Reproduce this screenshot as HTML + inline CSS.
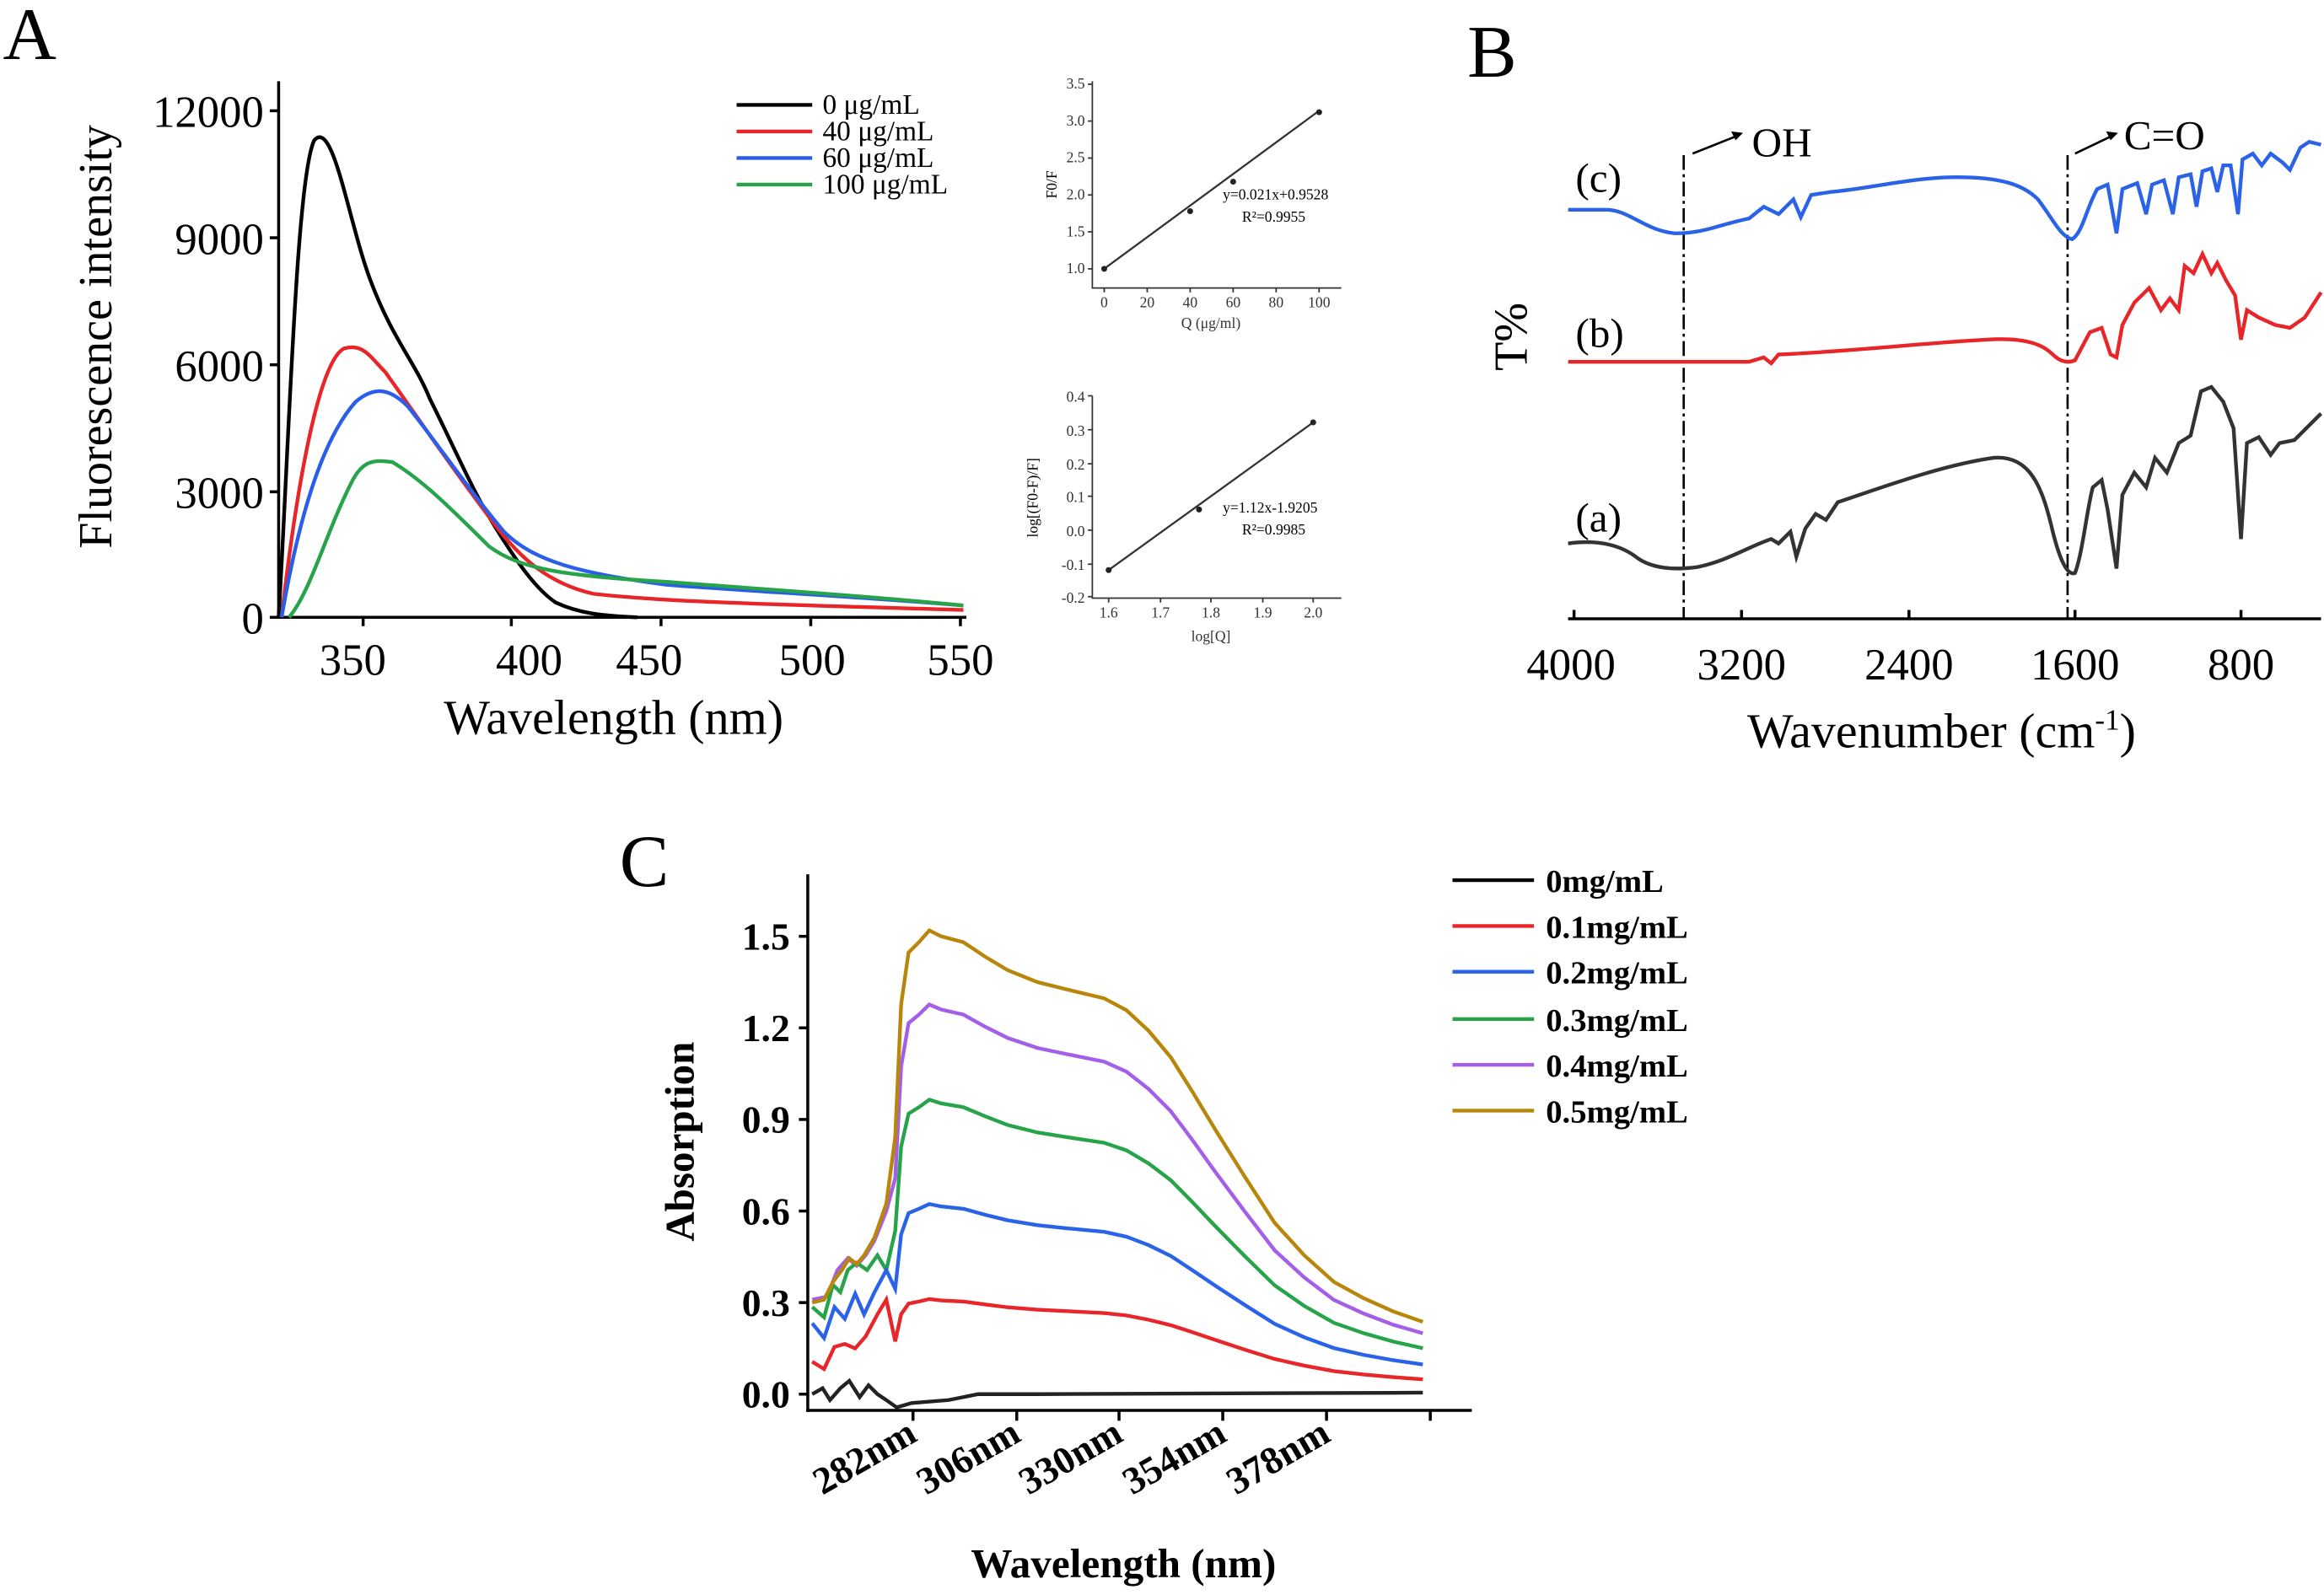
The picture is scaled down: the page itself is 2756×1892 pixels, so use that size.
<!DOCTYPE html>
<html><head><meta charset="utf-8"><style>
html,body{margin:0;padding:0;background:#fff}
svg{display:block}
text{font-family:"Liberation Serif",serif}
</style></head><body>
<svg id="s" width="2756" height="1892" viewBox="0 0 1568 1080" preserveAspectRatio="none">
<rect width="1568" height="1080" fill="#fff"/>
<!-- Panel A -->
<text x="2" y="40" font-size="50">A</text>
<g stroke="#000" stroke-width="2" fill="none">
<line x1="188" y1="55" x2="188" y2="419"/><line x1="187" y1="418" x2="652" y2="418"/>
<line x1="182" y1="75" x2="188" y2="75"/><line x1="182" y1="161" x2="188" y2="161"/><line x1="182" y1="247" x2="188" y2="247"/><line x1="182" y1="333" x2="188" y2="333"/><line x1="182" y1="418" x2="188" y2="418"/>
<line x1="245" y1="418" x2="245" y2="424"/><line x1="345" y1="418" x2="345" y2="424"/><line x1="446" y1="418" x2="446" y2="424"/><line x1="547" y1="418" x2="547" y2="424"/><line x1="648" y1="418" x2="648" y2="424"/>
</g>
<g font-size="30" text-anchor="end"><text x="178" y="86">12000</text><text x="178" y="172">9000</text><text x="178" y="258">6000</text><text x="178" y="344">3000</text><text x="178" y="429">0</text></g>
<g font-size="30" text-anchor="middle"><text x="238" y="457">350</text><text x="357" y="457">400</text><text x="438" y="457">450</text><text x="548" y="457">500</text><text x="648" y="457">550</text></g>
<text x="414" y="497" font-size="33" text-anchor="middle">Wavelength (nm)</text>
<text transform="translate(75,228) rotate(-90)" font-size="32" text-anchor="middle">Fluorescence intensity</text>
<g fill="none" stroke-width="2.5">
<path stroke="#000" d="M188,418 C195,300 200,120 212,95 C225,80 235,150 250,190 C265,230 280,245 290,270 C305,300 318,330 330,350 C345,375 360,398 375,408 C390,415 405,417 430,418"/>
<path stroke="#e8262a" d="M190,418 C200,330 215,245 232,236 C245,232 250,242 260,252 C280,280 300,310 330,350 C350,378 370,395 400,402 C450,408 550,410 650,413"/>
<path stroke="#2a5ee8" d="M190,418 C200,360 215,300 240,272 C252,262 262,262 275,275 C295,300 315,330 340,360 C360,380 390,388 450,396 C500,400 580,404 650,410"/>
<path stroke="#27a44a" d="M195,418 C210,400 220,360 238,325 C245,312 252,311 265,313 C285,325 305,345 330,370 C350,385 380,390 450,394 C500,398 580,403 650,410"/>
</g>
<g stroke-width="2.5"><line x1="497" y1="71" x2="548" y2="71" stroke="#000"/><line x1="497" y1="89" x2="548" y2="89" stroke="#e8262a"/><line x1="497" y1="107" x2="548" y2="107" stroke="#2a5ee8"/><line x1="497" y1="125" x2="548" y2="125" stroke="#27a44a"/></g>
<g font-size="19"><text x="555" y="77">0 μg/mL</text><text x="555" y="95">40 μg/mL</text><text x="555" y="113">60 μg/mL</text><text x="555" y="131">100 μg/mL</text></g>
<!-- insets -->
<g stroke="#333" stroke-width="1" fill="none"><path d="M737,55 V195 H905"/><path d="M737,268 V405 H905"/>
<path d="M737,57h-3M737,82h-3M737,107h-3M737,132h-3M737,157h-3M737,182h-3M745,195v3M774,195v3M803,195v3M832,195v3M861,195v3M890,195v3"/>
<path d="M737,268h-3M737,291h-3M737,314h-3M737,336h-3M737,359h-3M737,382h-3M737,404h-3M748,405v3M783,405v3M817,405v3M852,405v3M886,405v3"/></g>
<g font-size="10" fill="#333" text-anchor="end"><text x="732" y="60">3.5</text><text x="732" y="85">3.0</text><text x="732" y="110">2.5</text><text x="732" y="135">2.0</text><text x="732" y="160">1.5</text><text x="732" y="185">1.0</text>
<text x="732" y="272">0.4</text><text x="732" y="295">0.3</text><text x="732" y="318">0.2</text><text x="732" y="340">0.1</text><text x="732" y="363">0.0</text><text x="732" y="386">-0.1</text><text x="732" y="408">-0.2</text></g>
<g font-size="10" fill="#333" text-anchor="middle"><text x="745" y="208">0</text><text x="774" y="208">20</text><text x="803" y="208">40</text><text x="832" y="208">60</text><text x="861" y="208">80</text><text x="890" y="208">100</text><text x="817" y="222">Q (μg/ml)</text>
<text x="748" y="418">1.6</text><text x="783" y="418">1.7</text><text x="817" y="418">1.8</text><text x="852" y="418">1.9</text><text x="886" y="418">2.0</text><text x="817" y="434">log[Q]</text></g>
<text transform="translate(713,125) rotate(-90)" font-size="10" text-anchor="middle">F0/F</text>
<text transform="translate(700,337) rotate(-90)" font-size="10" text-anchor="middle">log[(F0-F)/F]</text>
<line x1="745" y1="182" x2="890" y2="75" stroke="#333" stroke-width="1.3"/>
<line x1="748" y1="386" x2="886" y2="286" stroke="#333" stroke-width="1.3"/>
<g fill="#222"><circle cx="745" cy="182" r="2"/><circle cx="803" cy="143" r="2"/><circle cx="832" cy="123" r="2"/><circle cx="890" cy="76" r="2"/>
<circle cx="748" cy="386" r="2"/><circle cx="809" cy="345" r="2"/><circle cx="886" cy="286" r="2"/></g>
<g font-size="10"><text x="825" y="135">y=0.021x+0.9528</text><text x="838" y="150">R²=0.9955</text><text x="825" y="347">y=1.12x-1.9205</text><text x="838" y="362">R²=0.9985</text></g>
<!-- Panel B -->
<text x="990" y="52" font-size="50">B</text>
<g stroke="#000" stroke-width="2" fill="none"><line x1="1058" y1="419" x2="1566" y2="419"/>
<line x1="1062" y1="419" x2="1062" y2="413"/><line x1="1175" y1="419" x2="1175" y2="413"/><line x1="1288" y1="419" x2="1288" y2="413"/><line x1="1400" y1="419" x2="1400" y2="413"/><line x1="1512" y1="419" x2="1512" y2="413"/></g>
<g font-size="30" text-anchor="middle"><text x="1060" y="460">4000</text><text x="1175" y="460">3200</text><text x="1288" y="460">2400</text><text x="1400" y="460">1600</text><text x="1512" y="460">800</text></g>
<text x="1310" y="506" font-size="33" text-anchor="middle">Wavenumber (cm<tspan font-size="20" dy="-12">-1</tspan><tspan dy="12">)</tspan></text>
<text transform="translate(1030,228) rotate(-90)" font-size="32" text-anchor="middle">T%</text>
<g stroke="#000" stroke-width="1.5" stroke-dasharray="10,3,2,3"><line x1="1136" y1="105" x2="1136" y2="419"/><line x1="1395" y1="105" x2="1395" y2="419"/></g>
<g stroke="#000" stroke-width="1.5"><line x1="1142" y1="104" x2="1172" y2="92"/><line x1="1400" y1="104" x2="1425" y2="92"/></g>
<path d="M1176,90 l-8,-1 l3,6z M1429,90 l-8,-1 l3,6z"/>
<text x="1182" y="106" font-size="28">OH</text><text x="1433" y="101" font-size="28">C=O</text>
<g font-size="28"><text x="1063" y="130">(c)</text><text x="1063" y="235">(b)</text><text x="1063" y="360">(a)</text></g>
<g fill="none" stroke-width="2.5">
<path stroke="#2a63e8" d="M1058,142 H1085 C1100,143 1110,156 1130,158 C1150,158 1160,152 1180,148 L1190,140 L1200,145 L1210,135 L1215,147 L1222,132 L1235,130 C1260,128 1290,120 1320,120 C1350,120 1365,125 1375,135 C1385,148 1390,160 1398,162 C1405,158 1408,140 1415,128 L1422,125 L1428,158 L1432,128 L1442,124 L1448,145 L1452,125 L1460,122 L1466,145 L1470,120 L1478,118 L1482,140 L1486,116 L1492,114 L1496,130 L1500,112 L1505,112 L1510,145 L1513,108 L1520,104 L1526,112 L1532,104 L1540,110 L1545,115 L1552,100 L1558,96 L1566,98"/>
<path stroke="#e8262a" d="M1058,245 H1180 L1190,242 L1195,246 L1200,240 C1250,238 1300,232 1340,230 C1370,228 1380,235 1385,240 C1390,245 1395,246 1400,244 L1410,225 L1418,222 L1424,240 L1428,242 L1432,220 L1440,205 L1450,195 L1458,210 L1464,202 L1470,210 L1474,180 L1480,185 L1486,172 L1492,185 L1496,178 L1502,190 L1508,200 L1512,230 L1516,210 L1524,215 L1535,220 L1545,222 L1555,215 L1566,198"/>
<path stroke="#333" d="M1058,368 C1080,365 1095,370 1105,378 C1115,385 1130,386 1145,384 C1165,380 1180,370 1195,365 L1200,368 L1208,360 L1212,377 L1218,358 L1225,348 L1232,352 L1240,340 C1270,330 1310,315 1345,310 C1370,308 1378,330 1385,360 C1390,380 1395,390 1400,388 C1405,375 1408,345 1412,330 L1418,325 L1422,345 L1428,385 L1432,335 L1440,320 L1448,330 L1454,310 L1462,320 L1470,300 L1478,295 L1485,265 L1492,262 L1500,272 L1507,290 L1512,365 L1516,300 L1524,296 L1532,308 L1538,300 L1548,298 L1556,290 L1566,280"/>
</g>
<!-- Panel C -->
<text x="418" y="600" font-size="50">C</text>
<g stroke="#000" stroke-width="2" fill="none"><line x1="545" y1="592" x2="545" y2="956"/><line x1="544" y1="955" x2="993" y2="955"/>
<line x1="539" y1="944" x2="545" y2="944"/><line x1="539" y1="882" x2="545" y2="882"/><line x1="539" y1="820" x2="545" y2="820"/><line x1="539" y1="758" x2="545" y2="758"/><line x1="539" y1="696" x2="545" y2="696"/><line x1="539" y1="634" x2="545" y2="634"/>
<line x1="616" y1="955" x2="616" y2="962"/><line x1="686" y1="955" x2="686" y2="962"/><line x1="755" y1="955" x2="755" y2="962"/><line x1="825" y1="955" x2="825" y2="962"/><line x1="895" y1="955" x2="895" y2="962"/><line x1="965" y1="955" x2="965" y2="962"/></g>
<g font-size="26" font-weight="bold" text-anchor="end"><text x="533" y="953">0.0</text><text x="533" y="891">0.3</text><text x="533" y="829">0.6</text><text x="533" y="767">0.9</text><text x="533" y="705">1.2</text><text x="533" y="643">1.5</text></g>
<g font-size="26" font-weight="bold" text-anchor="end">
<text transform="translate(620,975) rotate(-30)">282nm</text><text transform="translate(690,975) rotate(-30)">306nm</text><text transform="translate(759,975) rotate(-30)">330nm</text><text transform="translate(829,975) rotate(-30)">354nm</text><text transform="translate(899,975) rotate(-30)">378nm</text></g>
<text x="758" y="1068" font-size="28" font-weight="bold" text-anchor="middle">Wavelength (nm)</text>
<text transform="translate(468,773) rotate(-90)" font-size="28" font-weight="bold" text-anchor="middle">Absorption</text>
<g id="cc" fill="none" stroke-width="2.5"></g>
<g stroke-width="2.5"><line x1="980" y1="596" x2="1035" y2="596" stroke="#000"/><line x1="980" y1="627" x2="1035" y2="627" stroke="#e8262a"/><line x1="980" y1="658" x2="1035" y2="658" stroke="#2a63e8"/><line x1="980" y1="690" x2="1035" y2="690" stroke="#27a44a"/><line x1="980" y1="721" x2="1035" y2="721" stroke="#a45fe8"/><line x1="980" y1="752" x2="1035" y2="752" stroke="#b8860b"/></g>
<g font-size="22" font-weight="bold"><text x="1043" y="604">0mg/mL</text><text x="1043" y="635">0.1mg/mL</text><text x="1043" y="666">0.2mg/mL</text><text x="1043" y="698">0.3mg/mL</text><text x="1043" y="729">0.4mg/mL</text><text x="1043" y="760">0.5mg/mL</text></g>
</svg>
<script>
(function(){
var g=[[548,882],[556,880],[562,868],[568,860],[573,852],[578,856],[583,850],[590,838],[598,815],[604,770],[608,680],[613,645],[620,638],[627,630],[635,634],[650,638],[665,648],[680,657],[700,665],[720,670],[745,676],[760,684],[775,698],[790,716],[805,740],[820,765],[840,797],[860,828],[880,850],[900,868],[920,879],[940,888],[960,895]];
var cols=[["#a45fe8",0.84],["#27a44a",0.635],["#2a63e8",0.41],["#e8262a",0.205]];
var low={"#a45fe8":[[548,880],[558,878],[565,860],[572,852],[578,857],[584,850],[590,840],[598,820]],"#27a44a":[[548,885],[556,892],[562,870],[567,875],[572,860],[578,855],[585,860],[592,850],[598,860]],"#2a63e8":[[548,896],[556,906],[563,885],[570,893],[577,876],[583,890],[590,875],[598,860]],"#e8262a":[[548,922],[556,927],[563,912],[570,910],[577,913],[584,905],[592,890],[598,880]]};
var el=document.getElementById("cc"),ns="http://www.w3.org/2000/svg";
function add(pts,c){var p=document.createElementNS(ns,"path");p.setAttribute("d","M"+pts.map(function(a){return a[0]+","+a[1].toFixed(1)}).join(" L"));p.setAttribute("stroke",c);el.appendChild(p);}
cols.forEach(function(cc){var pts=low[cc[0]].slice();g.forEach(function(a){if(a[0]>598)pts.push([a[0],944-(944-a[1])*cc[1]]);});add(pts,cc[0]);});
add(g,"#b8860b");
add([[548,944],[555,940],[560,948],[567,940],[573,935],[580,946],[586,938],[592,944],[598,948],[605,953],[615,950],[640,948],[660,944],[700,944],[960,943]],"#222");
})();
</script>
</body></html>
